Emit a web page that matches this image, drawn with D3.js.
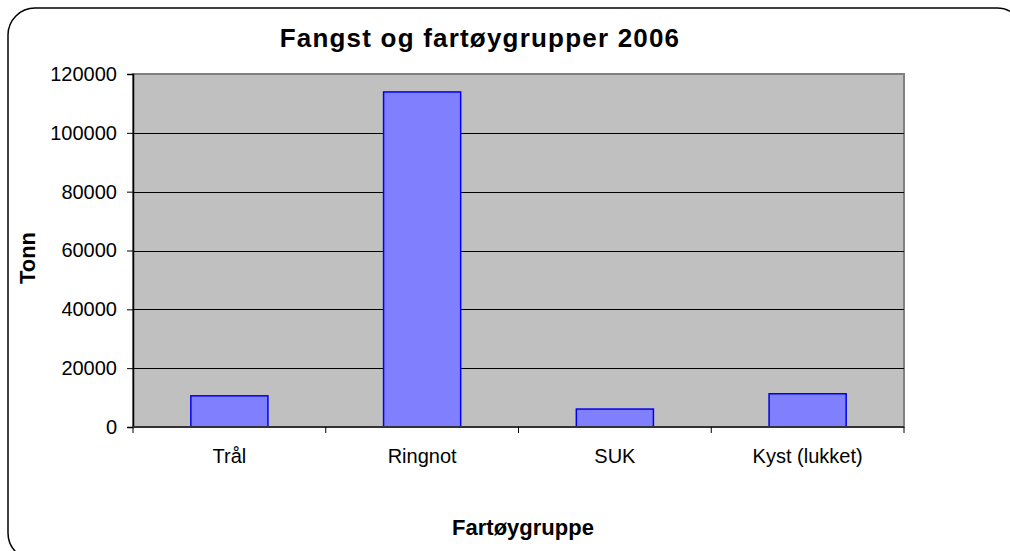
<!DOCTYPE html>
<html>
<head>
<meta charset="utf-8">
<script src="https://cdn.jsdelivr.net/npm/d3@7"></script>
<style>
  body { margin: 0; background: #fff; }
  text { font-family: "Liberation Sans", Arial, sans-serif; fill: #000; }
</style>
</head>
<body>
<div id="chart"></div>
<script>
// chart data
var categories = ["Trål", "Ringnot", "SUK", "Kyst (lukket)"];
var catchValues = [10600, 113900, 6100, 11300];
var yTicks = [0, 20000, 40000, 60000, 80000, 100000, 120000];

var svgWidth = 1010, svgHeight = 551;

// plot area in pixels
var plot = { left: 133, right: 904, top: 74, bottom: 427 };

var svg = d3.select("#chart")
  .append("svg")
  .attr("width", svgWidth)
  .attr("height", svgHeight);

// rounded chart border, partly off the picture
svg.append("rect")
  .attr("x", 8)
  .attr("y", 8)
  .attr("width", 1016)
  .attr("height", 552)
  .attr("rx", 27)
  .attr("fill", "none")
  .attr("stroke", "#000")
  .attr("stroke-width", 1.5);

var xScale = d3.scaleBand()
  .domain(categories)
  .range([plot.left, plot.right])
  .paddingInner(0.6)
  .paddingOuter(0.3);

var bandScale = d3.scaleBand()
  .domain(categories)
  .range([plot.left, plot.right]);

var yScale = d3.scaleLinear()
  .domain([0, 120000])
  .range([plot.bottom, plot.top]);

// grey plot area
svg.append("rect")
  .attr("x", plot.left)
  .attr("y", plot.top)
  .attr("width", plot.right - plot.left)
  .attr("height", plot.bottom - plot.top)
  .attr("fill", "#c0c0c0")
  .attr("stroke", "#808080")
  .attr("stroke-width", 2);

// gridlines
svg.append("g")
  .selectAll("line")
  .data(yTicks.slice(1, -1))
  .enter()
  .append("line")
  .attr("x1", plot.left)
  .attr("x2", plot.right)
  .attr("y1", d => Math.round(yScale(d)) + 0.5)
  .attr("y2", d => Math.round(yScale(d)) + 0.5)
  .attr("stroke", "#000")
  .attr("stroke-width", 1);

// bars
svg.append("g")
  .selectAll("rect")
  .data(catchValues)
  .enter()
  .append("rect")
  .attr("x", (d, i) => xScale(categories[i]))
  .attr("y", d => yScale(d))
  .attr("width", xScale.bandwidth())
  .attr("height", d => plot.bottom - yScale(d))
  .attr("fill", "#8080ff")
  .attr("stroke", "#0000ee")
  .attr("stroke-width", 1.5);

// y axis
var yAxis = d3.axisLeft(yScale)
  .tickValues(yTicks)
  .tickSize(6)
  .tickPadding(10)
  .tickFormat(d3.format("d"));

var yAxisGroup = svg.append("g")
  .attr("transform", `translate(${plot.left}, 0)`)
  .call(yAxis);
yAxisGroup.select(".domain").attr("stroke", "#000").attr("stroke-width", 1.5);
yAxisGroup.selectAll(".tick line").attr("stroke", "#000");
yAxisGroup.selectAll("text")
  .style("font-size", "20px")
  .attr("fill", "#000");

// x axis: line plus ticks at category boundaries
svg.append("line")
  .attr("x1", plot.left)
  .attr("x2", plot.right)
  .attr("y1", plot.bottom)
  .attr("y2", plot.bottom)
  .attr("stroke", "#333")
  .attr("stroke-width", 2);

var boundaries = categories.map(c => bandScale(c)).concat([plot.right]);
svg.append("g")
  .selectAll("line")
  .data(boundaries)
  .enter()
  .append("line")
  .attr("x1", d => d)
  .attr("x2", d => d)
  .attr("y1", plot.bottom)
  .attr("y2", plot.bottom + 6)
  .attr("stroke", "#000");

svg.append("g")
  .selectAll("text")
  .data(categories)
  .enter()
  .append("text")
  .attr("x", d => bandScale(d) + bandScale.bandwidth() / 2)
  .attr("y", 463)
  .attr("text-anchor", "middle")
  .style("font-size", "20px")
  .text(d => d);

// title
svg.append("text")
  .attr("x", 480)
  .attr("y", 47)
  .attr("text-anchor", "middle")
  .style("font-size", "26px")
  .style("font-weight", "bold")
  .style("letter-spacing", "1.2px")
  .text("Fangst og fartøygrupper 2006");

// axis titles
svg.append("text")
  .attr("transform", "translate(35, 258) rotate(-90)")
  .attr("text-anchor", "middle")
  .style("font-size", "22px")
  .style("font-weight", "bold")
  .text("Tonn");

svg.append("text")
  .attr("x", 523)
  .attr("y", 535)
  .attr("text-anchor", "middle")
  .style("font-size", "22px")
  .style("font-weight", "bold")
  .text("Fartøygruppe");
</script>
</body>
</html>
